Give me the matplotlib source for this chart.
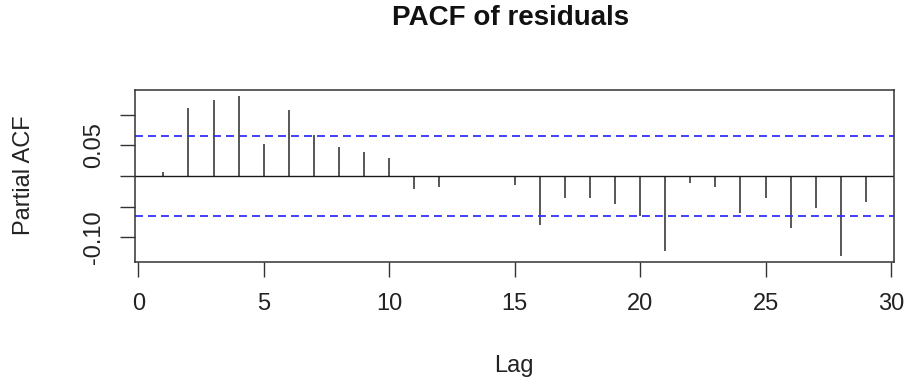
import matplotlib
matplotlib.use("Agg")
import matplotlib.pyplot as plt
import numpy as np

plt.rcParams['font.family'] = ['Liberation Sans', 'DejaVu Sans']

lags = list(range(1, 30))
pacf = [0.0065, 0.111, 0.123, 0.131, 0.052, 0.1075, 0.066, 0.047, 0.0385, 0.030,
        -0.0206, -0.0174, 0.0008, 0.0008, -0.015, -0.079, -0.036, -0.036, -0.0456, -0.065,
        -0.1227, -0.012, -0.0174, -0.0597, -0.036, -0.085, -0.0527, -0.130, -0.042]
ci = 0.065
xticks = [0, 5, 10, 15, 20, 25, 30]
yticks = [-0.10, -0.05, 0.0, 0.05, 0.10]
ytick_labels = ["-0.10", "", "", "0.05", ""]

W, H = 908, 385
fig = plt.figure(figsize=(W / 100, H / 100), dpi=100)
ax = fig.add_axes([135.3 / W, 1 - 262 / H, (894 - 135.3) / W, (262 - 90) / H])

ax.vlines(lags, 0, pacf, color='#2a2a2a', lw=1.1)
ax.axhline(0, color='#1a1a1a', lw=1.0)
for c in (ci, -ci):
    ax.axhline(c, color='#3030ff', lw=1.3, ls=(0, (4.4, 2.8)))

ax.set_xlim(-0.12, 30.12)
ax.set_ylim(-0.14, 0.14)
ax.set_xticks(xticks)
ax.set_xticklabels([str(t) for t in xticks])
ax.set_yticks(yticks)
ax.set_yticklabels(ytick_labels, rotation=90, va='center')

for s in ax.spines.values():
    s.set_color('#333333')
    s.set_linewidth(1.1)
ax.tick_params(axis='both', direction='out', length=11, width=1.0, color='#333333',
               labelsize=17, labelcolor='#222222')
ax.tick_params(axis='x', pad=11)
ax.tick_params(axis='y', pad=11)

fig.text(511 / W, 1 - 18 / H, "PACF of residuals", ha='center', va='center',
         fontsize=20, fontweight='bold', color='#111111')
fig.text(514 / W, 1 - 366 / H, "Lag", ha='center', va='center', fontsize=17, color='#222222')
fig.text(24 / W, 1 - 175 / H, "Partial ACF", ha='center', va='center', rotation=90,
         fontsize=17, color='#222222')

fig.savefig("out.png", dpi=100)
